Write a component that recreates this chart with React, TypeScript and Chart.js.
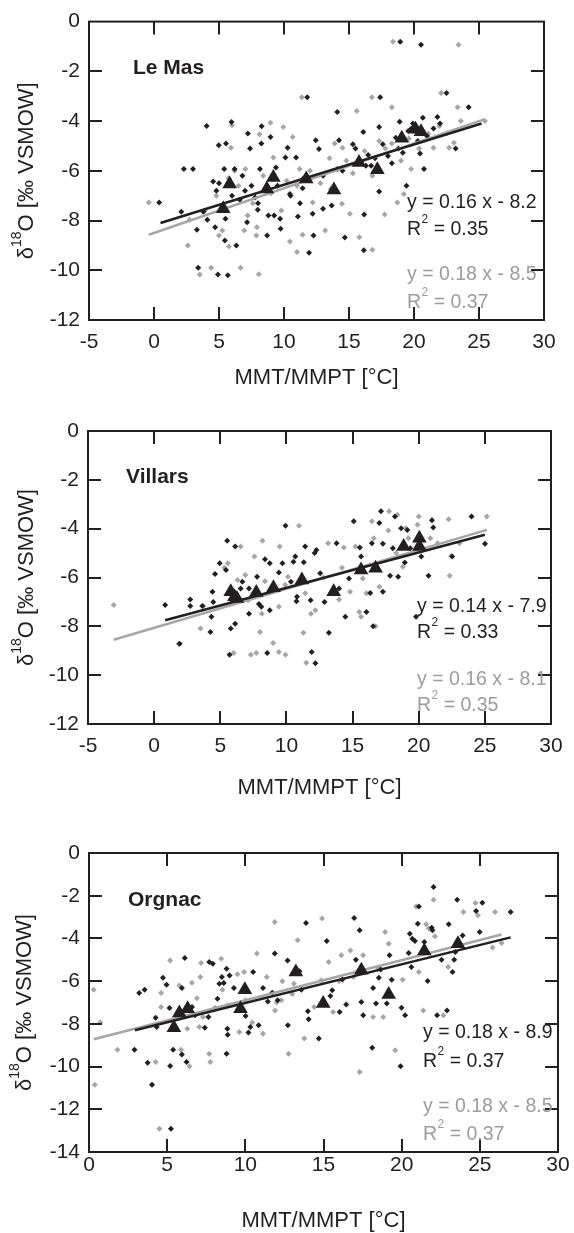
import React, { useEffect, useRef } from 'react';
import { Chart, registerables } from 'chart.js';

Chart.register(...registerables);

// ---------------- DATA ----------------
// Le Mas
const leMasBlack: [number, number][] = [
  [0.4, -7.27], [2.1, -7.65], [2.3, -5.93], [3.0, -5.93], [3.3, -8.37], [3.4, -9.9], [4.05, -4.2], [4.1, -7.97],
  [3.8, -7.65], [4.55, -6.43], [4.7, -8.27], [4.98, -4.97], [4.92, -10.17], [5.68, -10.2], [5.54, -4.9], [5.4, -5.93],
  [5.5, -7.93], [5.45, -8.8], [5.96, -4.04], [6.33, -9.0], [6.2, -5.93], [6.6, -7.16], [7.22, -4.5], [7.39, -5.1],
  [7.5, -6.6], [7.16, -8.07], [7.78, -7.07], [8.28, -4.21], [8.26, -4.9], [8.15, -5.93], [7.98, -7.57], [8.7, -8.6],
  [8.96, -4.64], [9.38, -5.87], [9.24, -7.8], [9.7, -7.93], [9.74, -8.33], [10.28, -5.07], [10.11, -5.47], [10.45, -6.93],
  [10.93, -5.47], [11.07, -7.84], [11.23, -7.3], [11.43, -6.7], [11.79, -3.04], [11.93, -9.3], [12.44, -4.77], [12.69, -5.12],
  [12.2, -7.73], [12.27, -8.6], [13.0, -7.53], [13.67, -7.4], [14.1, -3.64], [14.23, -4.77], [14.68, -8.68], [14.1, -5.93],
  [15.3, -4.93], [15.77, -5.57], [16.1, -4.44], [16.17, -7.76], [16.14, -9.2], [16.47, -5.36], [16.7, -5.8], [17.32, -4.24],
  [17.4, -3.04], [17.32, -6.83], [17.6, -4.93], [18.3, -5.7], [18.6, -4.67], [18.9, -4.03], [18.94, -0.81], [19.42, -6.6],
  [19.14, -5.27], [19.56, -4.4], [19.92, -4.1], [20.54, -0.93], [20.68, -3.87], [20.46, -5.3], [20.77, -5.93], [21.8, -3.84],
  [22.5, -2.87], [23.2, -5.1], [24.2, -3.44], [6.0, -7.0], [6.8, -6.2], [7.0, -6.8], [8.0, -7.3], [8.8, -7.8],
  [9.5, -6.6], [10.5, -7.0], [11.5, -6.3], [13.0, -6.2], [14.5, -6.0], [15.5, -5.1], [16.3, -5.8], [17.0, -5.5],
  [18.0, -5.4], [18.8, -5.1], [19.8, -4.3], [20.3, -4.8], [21.0, -4.6], [21.5, -4.3], [22.0, -4.1], [4.8, -6.8], [5.0, -6.5],
];
const leMasGray: [number, number][] = [
  [-0.4, -7.27], [2.6, -9.0], [2.73, -7.97], [3.52, -10.17], [4.4, -9.9], [5.26, -8.4], [5.76, -9.04], [6.0, -4.17],
  [5.93, -5.07], [5.73, -6.3], [6.66, -9.9], [6.94, -8.4], [7.03, -5.93], [7.87, -8.6], [7.92, -8.27], [8.12, -4.53],
  [8.06, -10.16], [8.96, -4.07], [9.18, -5.47], [9.94, -4.24], [10.45, -8.84], [10.67, -4.64], [11.2, -5.93], [11.37, -3.04],
  [11.43, -8.57], [11.0, -9.27], [12.2, -7.27], [13.17, -8.4], [13.6, -6.73], [13.9, -4.9], [14.5, -5.07], [14.46, -7.33],
  [15.07, -7.73], [15.6, -3.6], [15.8, -8.67], [16.76, -3.04], [16.8, -9.17], [17.32, -4.8], [17.74, -7.76], [18.3, -3.44],
  [18.38, -0.81], [18.72, -7.27], [19.22, -6.93], [19.78, -5.93], [20.26, -4.27], [21.5, -5.07], [21.95, -4.2], [22.08, -2.87],
  [22.7, -5.07], [23.35, -3.44], [23.43, -0.93], [23.07, -4.87], [23.6, -4.0], [25.45, -4.0], [6.5, -6.6], [7.2, -7.8],
  [7.6, -7.3], [8.4, -6.2], [9.0, -6.9], [9.8, -7.6], [10.2, -6.4], [11.0, -6.6], [12.0, -6.0], [12.8, -6.5],
  [13.5, -5.5], [14.8, -5.6], [15.3, -6.1], [16.2, -5.2], [16.8, -6.2], [17.8, -5.1], [18.3, -4.9], [19.0, -5.6],
  [19.6, -4.7], [20.4, -5.1], [21.1, -4.5], [22.5, -4.5], [4.8, -7.0], [3.9, -7.6], [5.0, -8.6], [6.2, -6.0],
];
const leMasTriangles: [number, number][] = [
  [5.32, -7.53], [5.82, -6.53], [8.68, -6.73], [9.18, -6.27], [11.71, -6.33], [13.84, -6.77],
  [15.77, -5.67], [17.18, -5.96], [19.06, -4.69], [20.12, -4.33], [20.54, -4.43],
];
const leMasFitBlack: [number, number][] = [[0.5, -8.1], [25.2, -4.1]];
const leMasFitGray: [number, number][] = [[-0.4, -8.57], [25.45, -3.92]];

// Villars
const villarsBlack: [number, number][] = [
  [0.83, -7.13], [2.73, -6.9], [2.73, -7.17], [1.93, -8.71], [3.64, -7.17], [4.41, -6.58], [4.47, -7.0], [4.33, -7.61],
  [4.25, -8.23], [4.6, -5.86], [4.96, -5.42], [5.52, -4.49], [5.43, -5.69], [5.79, -8.09], [5.7, -9.16], [6.12, -4.73],
  [6.12, -7.89], [6.67, -6.17], [6.54, -6.45], [7.17, -6.45], [7.17, -7.48], [7.78, -5.97], [7.92, -7.09], [8.38, -5.25],
  [8.1, -7.2], [8.55, -9.09], [8.74, -7.34], [8.74, -5.42], [9.43, -5.8], [9.7, -5.42], [9.93, -3.88], [10.34, -6.17],
  [10.53, -5.35], [10.67, -5.14], [10.76, -6.97], [10.8, -6.79], [11.31, -5.38], [11.42, -4.73], [11.83, -6.93], [11.91, -9.05],
  [12.19, -9.51], [12.13, -5.0], [12.27, -4.87], [12.55, -5.83], [12.88, -7.0], [13.21, -8.26], [13.79, -4.6], [13.98, -6.45],
  [14.45, -7.61], [14.73, -6.04], [15.09, -3.7], [15.55, -4.77], [15.64, -5.14], [16.05, -7.41], [16.33, -6.63], [16.46, -4.6],
  [16.55, -8.0], [17.02, -3.77], [17.15, -3.29], [17.29, -6.58], [17.29, -4.62], [17.84, -5.93], [18.04, -4.8], [18.2, -3.5],
  [18.45, -5.97], [18.67, -3.98], [18.95, -5.39], [19.14, -4.05], [19.36, -4.8], [19.8, -7.61], [20.19, -5.14], [21.0, -3.66],
  [21.1, -3.95], [20.74, -5.93], [22.53, -5.14], [23.99, -3.5], [25.01, -4.62],
];
const villarsGray: [number, number][] = [
  [-3.06, -7.13], [1.85, -8.71], [3.5, -8.09], [3.72, -7.17], [5.57, -5.42], [6.01, -9.09], [6.54, -4.73], [6.89, -5.9],
  [7.09, -6.93], [7.31, -9.16], [7.58, -5.14], [7.72, -9.09], [8.0, -8.23], [8.14, -7.48], [8.19, -4.49], [8.38, -6.15],
  [8.99, -8.68], [9.43, -7.2], [9.49, -4.73], [9.43, -9.05], [9.93, -9.16], [10.12, -5.97], [10.95, -3.88], [11.28, -8.26],
  [11.42, -6.65], [11.5, -9.49], [11.86, -7.48], [12.19, -7.34], [13.15, -4.6], [13.98, -6.9], [14.34, -4.77], [14.81, -6.58],
  [15.22, -4.73], [15.5, -7.41], [15.64, -7.61], [15.77, -6.04], [16.05, -6.65], [16.46, -3.7], [16.6, -4.39], [16.74, -8.0],
  [17.02, -6.38], [17.71, -4.07], [17.76, -3.29], [18.39, -3.43], [18.8, -5.56], [19.03, -3.98], [19.22, -4.39], [20.0, -3.5],
  [19.91, -3.84], [20.88, -4.39], [21.43, -4.6], [22.26, -3.61], [22.34, -5.93], [22.45, -5.12], [23.08, -4.6], [25.15, -3.5],
  [5.3, -5.6], [6.3, -6.1], [9.9, -6.3], [12.8, -6.0], [14.2, -5.6], [18.3, -5.0],
];
const villarsTriangles: [number, number][] = [
  [5.79, -6.58], [6.07, -6.79], [6.26, -6.86], [7.72, -6.61], [9.02, -6.42], [11.17, -6.1],
  [13.57, -6.58], [15.64, -5.69], [16.74, -5.62], [18.86, -4.73], [20.05, -4.39], [20.05, -4.73],
];
const villarsFitBlack: [number, number][] = [[0.83, -7.75], [25.0, -4.25]];
const villarsFitGray: [number, number][] = [[-3.06, -8.55], [25.15, -4.05]];

// Orgnac
const orgnacBlack: [number, number][] = [
  [2.91, -9.21], [3.21, -6.56], [3.56, -6.4], [3.75, -9.82], [4.03, -10.85], [4.26, -7.71], [4.33, -8.15], [4.73, -5.84],
  [4.96, -6.17], [5.15, -7.26], [5.19, -9.97], [5.24, -12.91], [5.38, -9.21], [5.94, -6.32], [5.94, -9.44], [6.13, -4.92],
  [6.24, -9.79], [6.59, -7.21], [6.78, -7.6], [7.41, -8.18], [7.64, -7.68], [7.69, -5.1], [7.92, -5.18], [8.22, -6.82],
  [8.34, -6.12], [8.5, -5.81], [8.62, -6.09], [8.8, -5.42], [8.85, -8.23], [8.87, -8.51], [8.99, -5.73], [8.8, -9.4],
  [9.27, -6.32], [10.02, -7.63], [10.2, -8.41], [10.32, -8.15], [10.5, -5.57], [10.85, -8.07], [11.13, -6.32], [11.44, -6.95],
  [11.72, -6.54], [11.88, -4.71], [12.07, -6.9], [12.7, -5.03], [12.72, -8.07], [13.46, -5.54], [13.58, -6.4], [13.88, -3.28],
  [14.0, -7.41], [14.05, -7.79], [14.7, -8.69], [15.21, -4.12], [15.44, -6.7], [15.56, -6.43], [16.03, -7.45], [16.21, -5.92],
  [16.45, -7.09], [16.96, -3.04], [17.07, -5.0], [17.31, -3.62], [17.42, -6.98], [17.54, -7.6], [18.12, -9.12], [18.17, -6.32],
  [18.36, -7.05], [18.54, -5.84], [18.66, -5.46], [19.05, -7.05], [19.22, -4.79], [19.36, -5.93], [19.93, -9.99], [19.99, -7.24],
  [20.22, -7.6], [20.45, -4.68], [20.52, -3.78], [20.62, -5.34], [20.68, -4.01], [20.85, -4.12], [21.1, -2.5], [21.03, -3.31],
  [21.45, -4.17], [21.66, -5.99], [21.92, -3.5], [21.97, -3.62], [22.04, -1.59], [22.27, -7.6], [22.55, -5.0], [22.9, -7.37],
  [23.01, -3.34], [23.25, -5.57], [23.36, -5.0], [23.43, -4.64], [23.55, -2.19], [23.9, -3.86], [24.76, -2.72], [24.99, -3.7],
  [25.16, -2.33], [26.97, -2.76],
];
const orgnacGray: [number, number][] = [
  [0.3, -6.4], [0.37, -10.85], [0.72, -7.94], [1.82, -9.21], [4.26, -9.79], [4.5, -12.91], [4.61, -6.56], [4.61, -7.21],
  [5.19, -5.03], [5.78, -6.2], [5.89, -9.21], [6.29, -8.23], [6.43, -9.99], [6.59, -6.07], [7.06, -8.15], [7.17, -5.15],
  [7.12, -5.81], [7.29, -7.68], [7.69, -9.4], [7.76, -9.79], [8.06, -7.24], [8.46, -4.95], [8.53, -6.4], [8.87, -7.13],
  [9.5, -5.68], [9.62, -8.38], [9.92, -5.57], [10.44, -7.94], [10.74, -4.71], [11.13, -8.46], [11.37, -5.81], [11.88, -3.23],
  [11.9, -7.37], [12.37, -6.0], [12.3, -6.9], [12.76, -9.4], [13.11, -6.12], [13.35, -4.09], [13.77, -8.69], [14.4, -7.21],
  [14.91, -3.07], [14.86, -5.96], [15.33, -5.1], [15.61, -7.45], [16.14, -4.79], [16.72, -4.56], [16.91, -5.81], [17.31, -10.25],
  [17.54, -4.79], [18.17, -7.68], [18.82, -7.68], [18.94, -3.7], [19.17, -4.25], [19.59, -9.24], [20.06, -5.93], [20.92, -2.5],
  [21.1, -5.57], [21.38, -7.37], [21.57, -3.34], [21.73, -3.54], [22.04, -2.19], [22.13, -3.9], [22.67, -7.6], [22.97, -5.34],
  [23.95, -2.76], [24.72, -2.34], [24.88, -2.92], [25.81, -4.43], [25.97, -2.76], [26.39, -4.21], [6.9, -6.8], [12.0, -7.0],
  [16.0, -6.0], [18.5, -5.4], [13.0, -6.6], [10.0, -6.9],
];
const orgnacTriangles: [number, number][] = [
  [5.43, -8.18], [5.78, -7.49], [6.31, -7.29], [9.69, -7.29], [9.97, -6.4], [13.23, -5.57],
  [14.98, -7.05], [17.42, -5.49], [19.17, -6.62], [21.45, -4.59], [23.6, -4.25],
];
const orgnacFitBlack: [number, number][] = [[2.94, -8.3], [26.97, -3.95]];
const orgnacFitGray: [number, number][] = [[0.3, -8.72], [26.39, -3.82]];

const siteNames = ['Le Mas', 'Villars', 'Orgnac'];
const blackEquations = ['y = 0.16 x - 8.2', 'y = 0.14 x - 7.9', 'y = 0.18 x - 8.9'];
const blackR2 = ['0.35', '0.33', '0.37'];
const grayEquations = ['y = 0.18 x - 8.5', 'y = 0.16 x - 8.1', 'y = 0.18 x - 8.5'];
const grayR2 = ['0.37', '0.35', '0.37'];
const xRanges: [number, number][] = [[-5, 30], [-5, 30], [0, 30]];
const yRanges: [number, number][] = [[-12, 0], [-12, 0], [-14, 0]];
const xTitle = 'MMT/MMPT [°C]';

// ---------------- STYLE / LAYOUT ----------------
const INK = '#231f20';
const GRAY = '#a6a6a6';
const GRAY_TEXT = '#9c9c9c';
const FONT = '"Liberation Sans", Arial, Helvetica, sans-serif';
const W = 574;

type Layout = {
  top: number; height: number; l: number; r: number; t: number; b: number;
  xTitleY: number; yTitleX: number; xTickPad: number;
  nameX: number; nameY: number; eqX: number; eqYs: number[];
};
const layouts: Layout[] = [
  { top: 0, height: 400, l: 89, r: 544, t: 20, b: 320, xTitleY: 378, yTitleX: 27, xTickPad: 10,
    nameX: 133, nameY: 68, eqX: 407, eqYs: [203, 230, 275, 303] },
  { top: 400, height: 420, l: 88, r: 551, t: 31, b: 324, xTitleY: 388, yTitleX: 27, xTickPad: 10,
    nameX: 126, nameY: 77, eqX: 417, eqYs: [207, 233, 280, 306] },
  { top: 820, height: 413, l: 89, r: 558, t: 33, b: 332, xTitleY: 401, yTitleX: 25, xTickPad: 1,
    nameX: 128, nameY: 80, eqX: 423, eqYs: [213, 242, 287, 315] },
];

const panelData = [
  { black: leMasBlack, gray: leMasGray, tri: leMasTriangles, fitB: leMasFitBlack, fitG: leMasFitGray },
  { black: villarsBlack, gray: villarsGray, tri: villarsTriangles, fitB: villarsFitBlack, fitG: villarsFitGray },
  { black: orgnacBlack, gray: orgnacGray, tri: orgnacTriangles, fitB: orgnacFitBlack, fitG: orgnacFitGray },
];

const toPts = (arr: [number, number][]) => arr.map(([x, y]) => ({ x, y }));

function drawR2(ctx: CanvasRenderingContext2D, x: number, y: number, value: string, color: string) {
  ctx.fillStyle = color;
  ctx.textAlign = 'left';
  ctx.textBaseline = 'middle';
  ctx.font = `19.5px ${FONT}`;
  ctx.fillText('R', x, y);
  const rw = ctx.measureText('R').width;
  ctx.font = `12px ${FONT}`;
  ctx.fillText('2', x + rw + 0.5, y - 10);
  const sw = ctx.measureText('2').width;
  ctx.font = `19.5px ${FONT}`;
  ctx.fillText(' = ' + value, x + rw + sw + 0.5, y);
}

const decorPlugin = {
  id: 'decor',
  afterDatasetsDraw(chart: any) {
    const cfg = chart.options.plugins.decor;
    const { ctx, chartArea: a, scales } = chart;
    const L: Layout = cfg.layout;
    const idx: number = cfg.idx;
    const TL = 13;
    ctx.save();
    ctx.strokeStyle = INK;
    ctx.lineWidth = 2;
    ctx.beginPath();
    const xs = scales.x, ys = scales.y;
    xs.ticks.forEach((t: any) => {
      if (t.value === xs.min || t.value === xs.max) return;
      const px = Math.round(xs.getPixelForValue(t.value));
      ctx.moveTo(px, a.bottom); ctx.lineTo(px, a.bottom - TL);
      ctx.moveTo(px, a.top); ctx.lineTo(px, a.top + TL);
    });
    ys.ticks.forEach((t: any) => {
      if (t.value === ys.min || t.value === ys.max) return;
      const py = Math.round(ys.getPixelForValue(t.value));
      ctx.moveTo(a.left, py); ctx.lineTo(a.left + TL, py);
      ctx.moveTo(a.right, py); ctx.lineTo(a.right - TL, py);
    });
    ctx.stroke();
    ctx.strokeRect(a.left, a.top, a.right - a.left, a.bottom - a.top);

    // site name
    ctx.fillStyle = INK;
    ctx.font = `bold 21px ${FONT}`;
    ctx.textAlign = 'left';
    ctx.textBaseline = 'middle';
    ctx.fillText(siteNames[idx], L.nameX, L.nameY);

    // equations
    ctx.font = `19.5px ${FONT}`;
    ctx.fillStyle = INK;
    ctx.fillText(blackEquations[idx], L.eqX, L.eqYs[0]);
    drawR2(ctx, L.eqX, L.eqYs[1], blackR2[idx], INK);
    ctx.font = `19.5px ${FONT}`;
    ctx.fillStyle = GRAY_TEXT;
    ctx.fillText(grayEquations[idx], L.eqX, L.eqYs[2]);
    drawR2(ctx, L.eqX, L.eqYs[3], grayR2[idx], GRAY_TEXT);

    // x title
    ctx.fillStyle = INK;
    ctx.font = `22px ${FONT}`;
    ctx.textAlign = 'center';
    ctx.fillText(xTitle, (a.left + a.right) / 2, L.xTitleY);

    // y title with superscript
    ctx.save();
    ctx.translate(L.yTitleX, (a.top + a.bottom) / 2);
    ctx.rotate(-Math.PI / 2);
    const big = `22px ${FONT}`;
    const small = `14px ${FONT}`;
    ctx.font = big;
    const w1 = ctx.measureText('δ').width;
    const w3 = ctx.measureText('O [‰ VSMOW]').width;
    ctx.font = small;
    const w2 = ctx.measureText('18').width;
    let x0 = -(w1 + w2 + w3) / 2;
    ctx.textAlign = 'left';
    ctx.textBaseline = 'middle';
    ctx.font = big;
    ctx.fillText('δ', x0, 0);
    ctx.font = small;
    ctx.fillText('18', x0 + w1, -10);
    ctx.font = big;
    ctx.fillText('O [‰ VSMOW]', x0 + w1 + w2, 0);
    ctx.restore();

    ctx.restore();
  },
};

function Panel({ idx }: { idx: number }) {
  const ref = useRef<HTMLCanvasElement>(null);
  useEffect(() => {
    const L = layouts[idx];
    const d = panelData[idx];
    const chart = new Chart(ref.current as HTMLCanvasElement, {
      type: 'scatter',
      data: {
        datasets: [
          { data: toPts(d.tri), pointStyle: 'triangle', pointRadius: 8.5, backgroundColor: INK, borderWidth: 0 },
          { data: toPts(d.fitB), showLine: true, pointRadius: 0, borderColor: INK, borderWidth: 2.5 },
          { data: toPts(d.fitG), showLine: true, pointRadius: 0, borderColor: GRAY, borderWidth: 2.5 },
          { data: toPts(d.black), pointStyle: 'rectRot', pointRadius: 3, backgroundColor: INK, borderWidth: 0 },
          { data: toPts(d.gray), pointStyle: 'rectRot', pointRadius: 3, backgroundColor: GRAY, borderWidth: 0 },
        ] as any,
      },
      options: {
        animation: false,
        responsive: false,
        maintainAspectRatio: false,
        events: [],
        layout: { padding: { left: 0, right: W - L.r, top: L.t, bottom: 0 } },
        plugins: {
          legend: { display: false },
          tooltip: { enabled: false },
          decor: { layout: L, idx },
        } as any,
        scales: {
          x: {
            type: 'linear',
            min: xRanges[idx][0],
            max: xRanges[idx][1],
            grid: { display: false, drawTicks: false },
            border: { display: false },
            ticks: { stepSize: 5, color: INK, font: { family: FONT, size: 21 }, padding: L.xTickPad, maxRotation: 0, autoSkip: false },
            afterFit: (s: any) => { s.height = L.height - L.b; },
          },
          y: {
            type: 'linear',
            min: yRanges[idx][0],
            max: yRanges[idx][1],
            grid: { display: false, drawTicks: false },
            border: { display: false },
            ticks: { stepSize: 2, color: INK, font: { family: FONT, size: 21 }, padding: 9, autoSkip: false },
            afterFit: (s: any) => { s.width = L.l; },
          },
        },
      },
      plugins: [decorPlugin],
    });
    return () => chart.destroy();
  }, [idx]);
  const L = layouts[idx];
  return (
    <canvas
      ref={ref}
      width={W}
      height={L.height}
      style={{ position: 'absolute', left: 0, top: L.top, width: W, height: L.height, display: 'block' }}
    />
  );
}

export default function App() {
  return (
    <div style={{ position: 'absolute', left: 0, top: 0, width: W, height: 1233, background: '#fff' }}>
      <Panel idx={0} />
      <Panel idx={1} />
      <Panel idx={2} />
    </div>
  );
}
